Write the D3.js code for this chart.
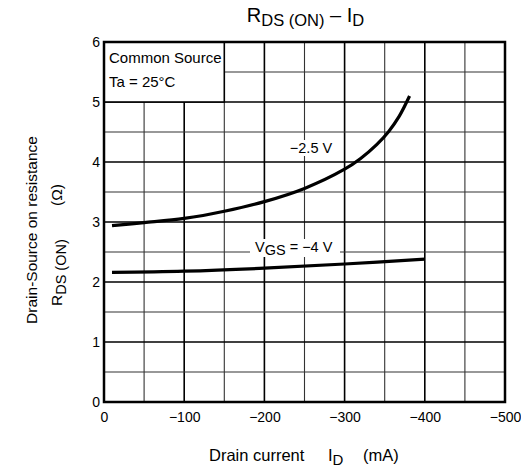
<!DOCTYPE html>
<html><head><meta charset="utf-8">
<script src="https://cdn.jsdelivr.net/npm/d3@7"></script>
<style>body{margin:0;background:#fff}svg{display:block;font-family:"Liberation Sans",Arial,sans-serif}</style>
</head><body><svg id="c" width="521" height="470"></svg>
<script>
const xTicks = [0, -100, -200, -300, -400, -500];
const xTickLabels = ["0", "\u2212100", "\u2212200", "\u2212300", "\u2212400", "\u2212500"];
const yTicks = [0, 1, 2, 3, 4, 5, 6];
const curve25I = [-10, -50, -100, -150, -200, -250, -300, -320, -340, -355, -368, -381];
const curve25R = [2.94, 2.99, 3.06, 3.18, 3.34, 3.56, 3.88, 4.06, 4.29, 4.51, 4.76, 5.1];
const curve4I = [-10, -100, -200, -300, -400];
const curve4R = [2.16, 2.18, 2.23, 2.30, 2.38];

const svg = d3.select("#c");
const L = 104, R = 505, T = 42, B = 402;
const x = d3.scaleLinear().domain([0, -500]).range([L, R]);
const y = d3.scaleLinear().domain([0, 6]).range([B, T]);

// grid
const g = svg.append("g");
d3.range(0, -501, -50).forEach(v => {
  const major = v % 100 === 0;
  g.append("line").attr("x1", x(v)).attr("x2", x(v)).attr("y1", T).attr("y2", B)
    .attr("stroke", major ? "#000" : "#333").attr("stroke-width", major ? 1.6 : 1.1);
});
d3.range(0, 6.01, 0.5).forEach(v => {
  const major = Math.abs(v - Math.round(v)) < 1e-6;
  g.append("line").attr("x1", L).attr("x2", R).attr("y1", y(v)).attr("y2", y(v))
    .attr("stroke", major ? "#000" : "#333").attr("stroke-width", major ? 1.6 : 1.1);
});

// legend box
svg.append("rect").attr("x", x(0)).attr("y", y(6)).attr("width", x(-150) - x(0)).attr("height", y(5) - y(6))
  .attr("fill", "#fff").attr("stroke", "#000").attr("stroke-width", 1.6);
svg.append("text").attr("x", 109).attr("y", 63).attr("font-size", 15).text("Common Source");
svg.append("text").attr("x", 109).attr("y", 87).attr("font-size", 15).text("Ta = 25\u00B0C");

// frame
svg.append("rect").attr("x", L).attr("y", T).attr("width", R - L).attr("height", B - T)
  .attr("fill", "none").attr("stroke", "#000").attr("stroke-width", 2.5);

// axes (ticks hidden, labels only)
const xAxis = d3.axisBottom(x).tickValues(xTicks).tickSize(0).tickPadding(10)
  .tickFormat((d, i) => xTickLabels[i]);
const xa = svg.append("g").attr("transform", `translate(0,${B})`).call(xAxis);
xa.select(".domain").remove();
xa.selectAll("text").attr("font-size", 14).attr("font-family", "Liberation Sans, Arial, sans-serif").attr("fill", "#000");
const yAxis = d3.axisLeft(y).tickValues(yTicks).tickSize(0).tickPadding(4).tickFormat(d3.format("d"));
const ya = svg.append("g").attr("transform", `translate(${L},0)`).call(yAxis);
ya.select(".domain").remove();
ya.selectAll("text").attr("font-size", 14).attr("font-family", "Liberation Sans, Arial, sans-serif").attr("fill", "#000");

// curves
const line = d3.line().x(d => x(d[0])).y(d => y(d[1])).curve(d3.curveCatmullRom.alpha(0.5));
svg.append("path").datum(curve25I.map((v, i) => [v, curve25R[i]])).attr("d", line)
  .attr("fill", "none").attr("stroke", "#000").attr("stroke-width", 3.2);
svg.append("path").datum(curve4I.map((v, i) => [v, curve4R[i]])).attr("d", line)
  .attr("fill", "none").attr("stroke", "#000").attr("stroke-width", 3.2);

// curve labels
svg.append("rect").attr("x", 287).attr("y", 140).attr("width", 48).attr("height", 16).attr("fill", "#fff");
svg.append("text").attr("x", 311).attr("y", 153).attr("font-size", 14.5).attr("text-anchor", "middle").text("\u22122.5 V");
svg.append("rect").attr("x", 250).attr("y", 239).attr("width", 90).attr("height", 18).attr("fill", "#fff");
const lab4 = svg.append("text").attr("x", 255).attr("y", 252).attr("font-size", 14.5);
lab4.append("tspan").text("V");
lab4.append("tspan").attr("dy", 3).text("GS");
lab4.append("tspan").attr("dy", -3).text(" = \u22124 V");

// title
const title = svg.append("text").attr("x", 305.5).attr("y", 22).attr("font-size", 20).attr("text-anchor", "middle");
title.append("tspan").text("R");
title.append("tspan").attr("font-size", 16.5).attr("dy", 4).text("DS (ON)");
title.append("tspan").attr("dy", -4).text(" \u2013 I");
title.append("tspan").attr("font-size", 16.5).attr("dy", 4).text("D");

// x label
const xl = svg.append("text").attr("y", 461).attr("font-size", 16.5);
xl.append("tspan").attr("x", 209).text("Drain current");
xl.append("tspan").attr("x", 328).text("I");
xl.append("tspan").attr("dy", 4).attr("font-size", 15).text("D");
xl.append("tspan").attr("x", 363).attr("dy", -4).text("(mA)");

// y label
svg.append("text").attr("transform", "translate(37,230) rotate(-90)").attr("font-size", 15.5).attr("text-anchor", "middle").text("Drain-Source on resistance");
const yl2 = svg.append("text").attr("transform", "translate(62,306) rotate(-90)").attr("font-size", 15.5);
yl2.append("tspan").attr("x", 0).text("R");
yl2.append("tspan").attr("font-size", 14.5).attr("dy", 4).text("DS (ON)");
yl2.append("tspan").attr("x", 100).attr("dy", -4).text("(\u03A9)");
</script></body></html>
